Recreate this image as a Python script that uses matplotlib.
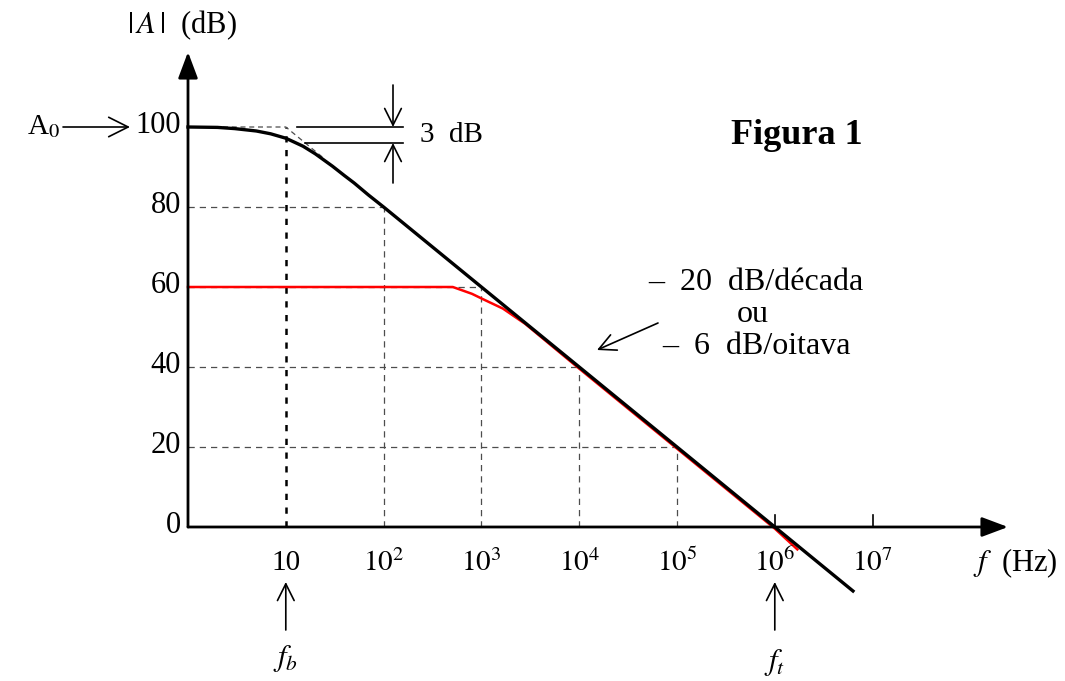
import matplotlib
matplotlib.use('Agg')
import matplotlib.pyplot as plt
import numpy as np

plt.rcParams['font.family'] = ['Liberation Serif', 'DejaVu Serif']
plt.rcParams['mathtext.fontset'] = 'stix'

# open loop gain |A| (black) and closed loop gain (red)
freq_open = [1, 2, 3, 5, 7, 10, 15, 20, 30, 40, 50, 70, 100, 1e3, 1e4, 1e5, 1e6, 6.3e6]
gain_open = [100, 99.9, 99.6, 99, 98.3, 97.2, 95.2, 93.3, 90.2, 87.8, 86, 83, 80, 60, 40, 20, 0, -16]
freq_closed = [1, 510, 800, 1050, 1660, 2800, 1e4, 1e5, 1e6, 1.7e6]
gain_closed = [60, 60, 58.3, 56.9, 54.6, 50.8, 39.6, 19.6, -0.4, -5.6]

# dashed guide lines: (frequency, gain)
guide_freq = [10, 100, 1e3, 1e4, 1e5]
guide_gain = [100, 80, 60, 40, 20]
asym_freq = [1, 10, 25]
asym_gain = [100, 100, 92]

ytick_vals = [0, 20, 40, 60, 80, 100]
xtick_vals = [10, 1e2, 1e3, 1e4, 1e5, 1e6, 1e7]
xtick_labels = ['10', r'$10^{2}$', r'$10^{3}$', r'$10^{4}$', r'$10^{5}$', r'$10^{6}$', r'$10^{7}$']

W, H = 1065, 681
X0, DEC = 188, 97.8   # pixel of 1 Hz, pixels per decade
Y0, DB = 527, 4.0     # pixel of 0 dB, pixels per dB


def fx(px):
    return 10 ** ((px - X0) / DEC)


def fy(py):
    return (Y0 - py) / DB


fig = plt.figure(figsize=(W / 100, H / 100), dpi=100)
ax = fig.add_axes([0, 0, 1, 1])
ax.set_xscale('log')
ax.set_xlim(fx(0), fx(W))
ax.set_ylim(fy(H), fy(0))
ax.axis('off')

# guide lines
for f, g in zip(guide_freq, guide_gain):
    if f == 10:
        ax.plot([f, f], [0, g], color='black', lw=1.8, ls=(0, (2.5, 3)))
    else:
        ax.plot([f, f], [0, g], color='0.3', lw=0.9, ls=(0, (5, 4)))
        ax.plot([1, f], [g, g], color='0.3', lw=0.9, ls=(0, (5, 4)))
ax.plot(asym_freq, asym_gain, color='0.3', lw=0.9, ls=(0, (4, 3)))

# curves
ax.plot(freq_closed, gain_closed, color='red', lw=1.8, zorder=3)
ax.plot(freq_open, gain_open, color='black', lw=2.4, zorder=4)

# axes with arrows
arrow_kw = dict(arrowstyle='-|>,head_length=0.8,head_width=0.3', color='black',
                lw=2.0, mutation_scale=20, shrinkA=0, shrinkB=0)
ax.annotate('', xy=(1, fy(52)), xytext=(1, 0), arrowprops=arrow_kw)
ax.annotate('', xy=(fx(1008), 0), xytext=(1, 0), arrowprops=arrow_kw)
for f in [1e6, 1e7]:
    ax.plot([f, f], [0, 3], color='black', lw=1.2)

# tick labels
for v in ytick_vals:
    ax.annotate(str(v), xy=(1, v), xytext=(-5, 1), textcoords='offset points',
                ha='right', va='center', fontsize=22)
for v, lab in zip(xtick_vals, xtick_labels):
    ax.text(v, fy(563), lab, ha='center', va='center', fontsize=21)

ax.text(fx(182), fy(25), r'$|\,A\,|$  (dB)', ha='center', va='center', fontsize=22)
ax.text(fx(1015), fy(563), r'$f$  (Hz)', ha='center', va='center', fontsize=22)

# A0 marker
ax.text(fx(44), 100, r'A$_0$', ha='center', va='center', fontsize=21)
ax.annotate('', xy=(fx(130), 100), xytext=(fx(63), 100),
            arrowprops=dict(arrowstyle='->,head_length=0.7,head_width=0.35',
                            color='black', lw=1.2, mutation_scale=20, shrinkA=0, shrinkB=0))

# 3 dB marker
ax.plot([fx(297), fx(403)], [100, 100], color='black', lw=1.2)
ax.plot([fx(305), fx(403)], [96, 96], color='black', lw=1.2)
small_kw = dict(arrowstyle='->,head_length=0.6,head_width=0.3', color='black',
                lw=1.2, mutation_scale=20, shrinkA=0, shrinkB=0)
ax.annotate('', xy=(fx(393), 100), xytext=(fx(393), fy(85)), arrowprops=small_kw)
ax.annotate('', xy=(fx(393), 96), xytext=(fx(393), fy(183)), arrowprops=small_kw)
ax.text(fx(420), 98, '3  dB', ha='left', va='center', fontsize=21)

# slope label
ax.text(fx(648), fy(282), '–  20  dB/década', ha='left', va='center', fontsize=23)
ax.text(fx(753), fy(315), 'ou', ha='center', va='center', fontsize=23)
ax.text(fx(662), fy(347), '–  6  dB/oitava', ha='left', va='center', fontsize=23)
ax.annotate('', xy=(fx(597), fy(350)), xytext=(fx(658), fy(323)), arrowprops=small_kw)

ax.text(fx(797), fy(135), 'Figura 1', ha='center', va='center', fontsize=26,
        fontweight='bold')

# fb and ft markers
for f, lab, ly in [(10, r'$f_b$', 658), (1e6, r'$f_t$', 662)]:
    ax.annotate('', xy=(f, fy(582)), xytext=(f, fy(630)), arrowprops=small_kw)
    ax.text(f, fy(ly), lab, ha='center', va='center', fontsize=22)

fig.savefig('out.png', dpi=100)
